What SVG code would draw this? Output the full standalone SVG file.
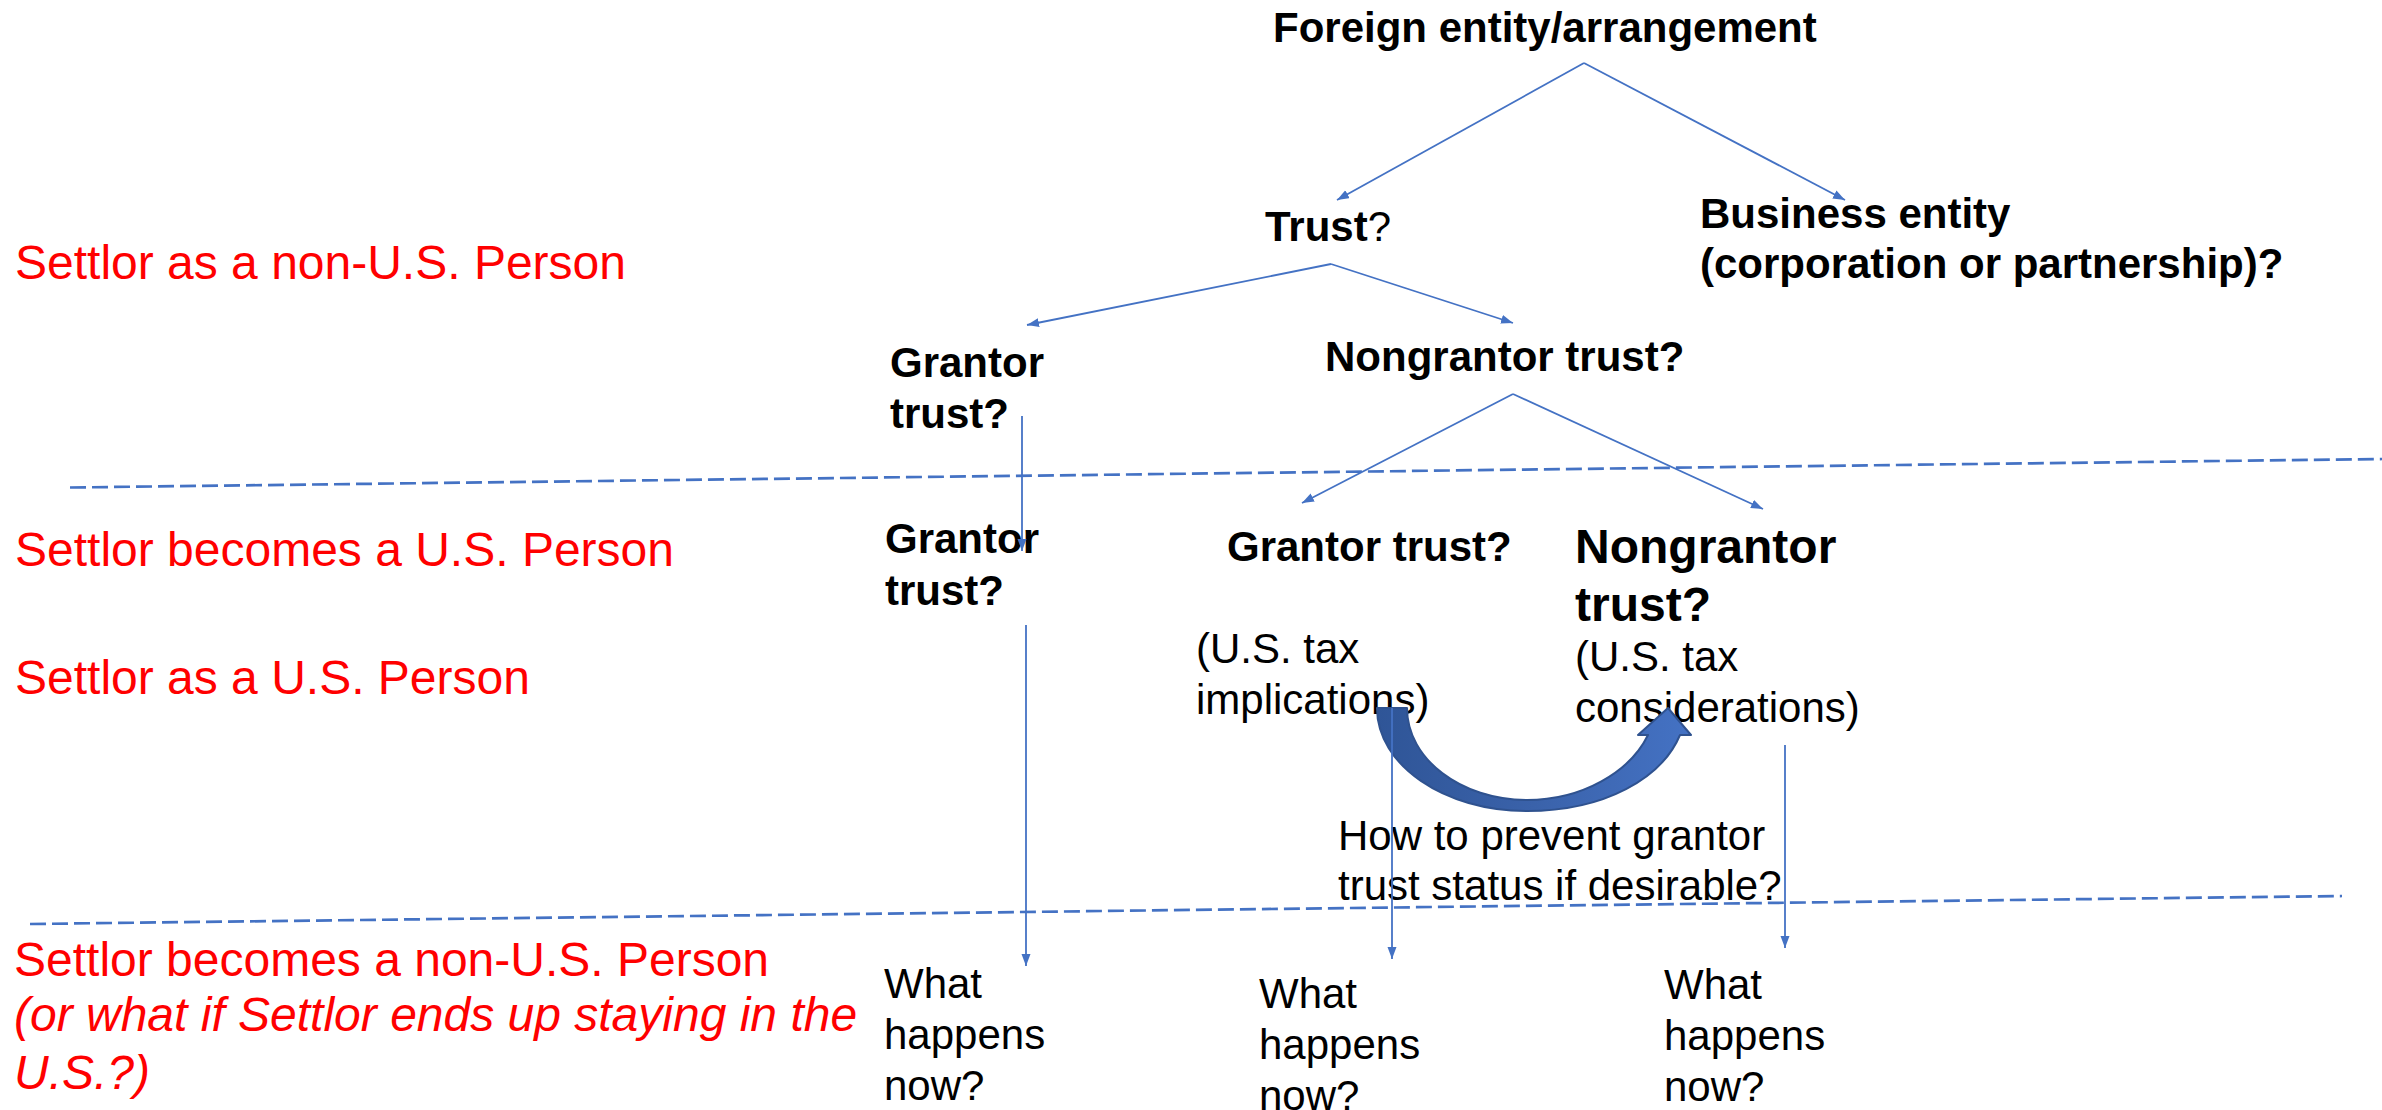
<svg xmlns="http://www.w3.org/2000/svg" width="2382" height="1110" viewBox="0 0 2382 1110">
  <style>
    text { font-family: "Liberation Sans", Arial, sans-serif; fill: #000; }
    .b { font-weight: bold; font-size: 42px; }
    .bl { font-weight: bold; font-size: 48px; }
    .n { font-size: 42px; }
    .red { fill: #FF0000; font-size: 48px; }
    .it { font-style: italic; }
    .conn { stroke: #4472C4; stroke-width: 1.8; fill: none; marker-end: url(#ah); }
    .dash { stroke: #4472C4; stroke-width: 2.7; fill: none; stroke-dasharray: 16 6; }
  </style>
  <defs>
    <marker id="ah" markerUnits="userSpaceOnUse" markerWidth="13" markerHeight="10" refX="12" refY="4.5" orient="auto">
      <path d="M0,0 L12,4.5 L0,9 z" fill="#4472C4"/>
    </marker>
    <linearGradient id="arcg" x1="0" y1="0" x2="1" y2="0">
      <stop offset="0" stop-color="#2F5597"/>
      <stop offset="0.5" stop-color="#3A62AA"/>
      <stop offset="1" stop-color="#4472C4"/>
    </linearGradient>
  </defs>
  <rect width="2382" height="1110" fill="#FFFFFF"/>

  <g id="phase-labels">
    <text class="red" x="15" y="279">Settlor as a non-U.S. Person</text>
    <text class="red" x="15" y="566">Settlor becomes a U.S. Person</text>
    <text class="red" x="15" y="694">Settlor as a U.S. Person</text>
    <text class="red" x="14" y="976">Settlor becomes a non-U.S. Person</text>
    <text class="red it" x="14" y="1031">(or what if Settlor ends up staying in the</text>
    <text class="red it" x="14" y="1089">U.S.?)</text>
  </g>

  <g id="dividers">
    <line class="dash" x1="70" y1="487.5" x2="2382" y2="459"/>
    <line class="dash" x1="30" y1="924" x2="2342" y2="896"/>
  </g>

  <g id="node-foreign">
    <text class="b" x="1273" y="42">Foreign entity/arrangement</text>
  </g>
  <g id="node-trust">
    <text class="b" x="1265" y="241">Trust<tspan font-weight="normal">?</tspan></text>
  </g>
  <g id="node-business">
    <text class="b" x="1700" y="228">Business entity</text>
    <text class="b" x="1700" y="278">(corporation or partnership)?</text>
  </g>
  <g id="node-grantor-1">
    <text class="b" x="890" y="377">Grantor</text>
    <text class="b" x="890" y="428">trust?</text>
  </g>
  <g id="node-nongrantor-1">
    <text class="b" x="1325" y="371">Nongrantor trust?</text>
  </g>
  <g id="node-grantor-2">
    <text class="b" x="885" y="553">Grantor</text>
    <text class="b" x="885" y="605">trust?</text>
  </g>
  <g id="node-grantor-3">
    <text class="b" x="1227" y="561">Grantor trust?</text>
    <text class="n" x="1196" y="663">(U.S. tax</text>
    <text class="n" x="1196" y="714">implications)</text>
  </g>
  <g id="node-nongrantor-2">
    <text class="bl" x="1575" y="563">Nongrantor</text>
    <text class="bl" x="1575" y="621">trust?</text>
    <text class="n" x="1575" y="671">(U.S. tax</text>
    <text class="n" x="1575" y="722">considerations)</text>
  </g>
  <g id="node-prevent">
    <text class="n" x="1338" y="850">How to prevent grantor</text>
    <text class="n" x="1338" y="900">trust status if desirable?</text>
  </g>
  <g id="node-what-1">
    <text class="n" x="884" y="998">What</text>
    <text class="n" x="884" y="1049">happens</text>
    <text class="n" x="884" y="1100">now?</text>
  </g>
  <g id="node-what-2">
    <text class="n" x="1259" y="1008">What</text>
    <text class="n" x="1259" y="1059">happens</text>
    <text class="n" x="1259" y="1110">now?</text>
  </g>
  <g id="node-what-3">
    <text class="n" x="1664" y="999">What</text>
    <text class="n" x="1664" y="1050">happens</text>
    <text class="n" x="1664" y="1101">now?</text>
  </g>

  <g id="connectors">
    <line class="conn" x1="1584" y1="63" x2="1337" y2="200"/>
    <line class="conn" x1="1584" y1="63" x2="1845" y2="200"/>
    <line class="conn" x1="1331" y1="264" x2="1027" y2="325"/>
    <line class="conn" x1="1331" y1="264" x2="1513" y2="323"/>
    <line class="conn" x1="1513" y1="394" x2="1302" y2="503"/>
    <line class="conn" x1="1513" y1="394" x2="1763" y2="509"/>
    <line class="conn" x1="1022" y1="416" x2="1022" y2="551"/>
    <line class="conn" x1="1026" y1="625" x2="1026" y2="966"/>
    <line class="conn" x1="1785" y1="745" x2="1785" y2="948"/>
    <path id="curved-arrow" d="M1377,708 L1407,708 C1407,759 1461,800 1527,800 C1582,800 1630,772 1648,735 L1638,735 L1668,708 L1691,735 L1680,735 C1662,778 1605,811 1527,811 C1444,811 1377,765 1377,708 Z" fill="url(#arcg)" stroke="#2F528F" stroke-width="2" stroke-linejoin="round"/>
    <line class="conn" x1="1392" y1="708" x2="1392" y2="959"/>
  </g>
</svg>
